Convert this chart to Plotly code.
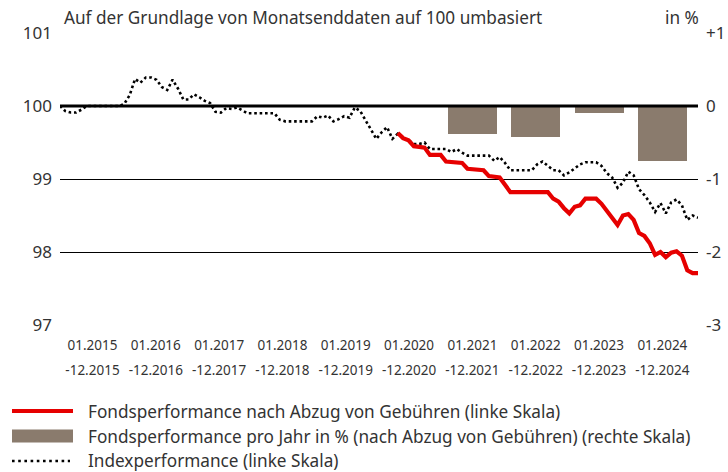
import plotly.graph_objects as go

# ---------------- data ----------------
years = [2015, 2016, 2017, 2018, 2019, 2020, 2021, 2022, 2023, 2024]
tick_top = ["01.%d" % y for y in years]
tick_bottom = ["-12.%d" % y for y in years]

# monthly index performance (Jan 2015 .. Dec 2024), rebased to 100
index_perf = [
    100.00, 99.93, 99.91, 99.91, 99.95, 100.00, 100.00, 100.00, 100.00, 100.00, 100.00, 100.00,
    100.03, 100.15, 100.37, 100.32, 100.39, 100.39, 100.36, 100.26, 100.22, 100.36, 100.24, 100.09,
    100.09, 100.16, 100.12, 100.07, 100.04, 99.92, 99.91, 99.97, 99.96, 99.98, 99.94, 99.90,
    99.90, 99.90, 99.90, 99.90, 99.90, 99.81, 99.79, 99.79, 99.79, 99.79, 99.79, 99.79,
    99.86, 99.84, 99.87, 99.79, 99.82, 99.86, 99.84, 99.98, 99.93, 99.80, 99.68, 99.55,
    99.64, 99.71, 99.55, 99.62, 99.56, 99.53, 99.48, 99.48, 99.50, 99.41, 99.41, 99.41,
    99.41, 99.37, 99.41, 99.36, 99.32, 99.32, 99.32, 99.32, 99.32, 99.25, 99.30, 99.22,
    99.12, 99.12, 99.12, 99.12, 99.12, 99.20, 99.24, 99.18, 99.12, 99.12, 99.05, 99.09,
    99.14, 99.20, 99.23, 99.23, 99.23, 99.18, 99.08, 99.02, 98.88, 98.95, 99.10, 99.05,
    98.86, 98.78, 98.68, 98.55, 98.67, 98.53, 98.68, 98.72, 98.64, 98.44, 98.50, 98.47,
]

# fund performance after fees, starts April 2020 (month index 63)
fund_start = 63
fund_perf = [
    99.63, 99.56, 99.53, 99.45, 99.44, 99.43, 99.33, 99.33, 99.33,
    99.24, 99.23, 99.23, 99.22, 99.14, 99.13, 99.13, 99.12, 99.04, 99.03, 99.02, 98.92,
    98.82, 98.82, 98.82, 98.82, 98.82, 98.82, 98.82, 98.82, 98.73, 98.69, 98.60, 98.53,
    98.62, 98.64, 98.73, 98.73, 98.73, 98.66, 98.56, 98.46, 98.37, 98.50, 98.52, 98.44,
    98.26, 98.22, 98.12, 97.96, 98.00, 97.93, 97.99, 98.01, 97.95, 97.75, 97.71, 97.71,
]

# yearly fund performance in % (right scale)
bar_years = [2021, 2022, 2023, 2024]
bar_values = [-0.38, -0.43, -0.10, -0.76]

left_ticks = [97, 98, 99, 100, 101]
right_ticks = [-3, -2, -1, 0, 1]
right_ticktext = ["-3", "-2", "-1", "0", "+1"]

title_text = "Auf der Grundlage von Monatsenddaten auf 100 umbasiert"
unit_text = "in %"
legend_texts = [
    "Fondsperformance nach Abzug von Gebühren (linke Skala)",
    "Fondsperformance pro Jahr in % (nach Abzug von Gebühren) (rechte Skala)",
    "Indexperformance (linke Skala)",
]

# ---------------- styling ----------------
RED = "rgb(230,0,0)"
BROWN = "#8a7b6d"
TXT = "#333333"
FONT = "Noto Sans"

W, H = 728, 472
# plot area in pixels: x 60..698, y 33..325
PL, PR, PT, PB = 60, 698, 33, 325
L, R, T, B = PL, W - PR, PT, H - PB
pw, ph = PR - PL, PB - PT


def px_x(p):
    return (p - PL) / pw


def px_y(p):
    return (PB - p) / ph


YEAR_MONTHS = 11.81     # visual spacing of year labels on the month axis
FIRST_CENTER = 6.06
months_idx = list(range(len(index_perf)))
months_fund = [fund_start + i for i in range(len(fund_perf))]
tickvals = [FIRST_CENTER + (y - years[0]) * YEAR_MONTHS for y in years]
bar_x = [FIRST_CENTER + (y - years[0]) * YEAR_MONTHS for y in bar_years]

fig = go.Figure()

fig.add_trace(go.Bar(
    x=bar_x, y=bar_values, width=9.14, marker=dict(color=BROWN, line=dict(width=0)),
    xaxis="x2", yaxis="y2", showlegend=False, hoverinfo="skip",
))
fig.add_trace(go.Scatter(
    x=months_idx, y=index_perf, mode="lines",
    line=dict(color="black", width=2.6, dash="2.6px,2.8px"),
    showlegend=False,
))
fig.add_trace(go.Scatter(
    x=months_fund, y=fund_perf, mode="lines",
    line=dict(color=RED, width=4.2),
    showlegend=False,
))

shapes = [
    dict(type="line", xref="paper", yref="y", x0=0, x1=1, y0=100, y1=100,
         line=dict(color="black", width=3), layer="above"),
]
# manual legend rows (pixel centres)
ROWS = [411, 436, 460]
shapes.append(dict(type="line", xref="paper", yref="paper", x0=px_x(12), x1=px_x(73),
                   y0=px_y(ROWS[0]), y1=px_y(ROWS[0]), line=dict(color=RED, width=4)))
shapes.append(dict(type="rect", xref="paper", yref="paper", x0=px_x(12), x1=px_x(73),
                   y0=px_y(ROWS[1] + 6.5), y1=px_y(ROWS[1] - 6.5), fillcolor=BROWN,
                   line=dict(width=0)))
shapes.append(dict(type="line", xref="paper", yref="paper", x0=px_x(12), x1=px_x(70),
                   y0=px_y(ROWS[2] + 1), y1=px_y(ROWS[2] + 1),
                   line=dict(color="black", width=2.6, dash="2.6px,3.6px")))

TXT_SIZE = 17.2
annotations = [
    dict(text=title_text, xref="paper", yref="paper", x=px_x(62), y=px_y(18),
         xanchor="left", yanchor="middle", showarrow=False,
         font=dict(family=FONT, size=TXT_SIZE, color=TXT)),
    dict(text=unit_text, xref="paper", yref="paper", x=px_x(701), y=px_y(18),
         xanchor="right", yanchor="middle", showarrow=False,
         font=dict(family=FONT, size=TXT_SIZE, color=TXT)),
]
for t, ry in zip(legend_texts, ROWS):
    annotations.append(dict(text=t, xref="paper", yref="paper", x=px_x(86), y=px_y(ry),
                            xanchor="left", yanchor="middle", showarrow=False,
                            font=dict(family=FONT, size=TXT_SIZE, color=TXT)))

axis_font = dict(family=FONT, size=17, color=TXT)
x_font = dict(family=FONT, size=13.5, color=TXT)

fig.update_layout(
    width=W, height=H,
    autosize=False,
    margin=dict(l=L, r=R, t=T, b=B, pad=0),
    paper_bgcolor="white", plot_bgcolor="white",
    showlegend=False,
    bargap=0,
    shapes=shapes,
    annotations=annotations,
    xaxis=dict(range=[0, 119], tickvals=tickvals, ticktext=tick_top, showgrid=False,
               zeroline=False, showline=False, ticks="", tickfont=x_font,
               ticklabelstandoff=10, fixedrange=True, automargin=False),
    xaxis2=dict(range=[0, 119], tickvals=tickvals, ticktext=tick_bottom, showgrid=False,
                zeroline=False, showline=False, ticks="", tickfont=x_font,
                overlaying="x", anchor="y2", side="bottom", matches="x",
                ticklabelstandoff=35, fixedrange=True, automargin=False),
    yaxis=dict(range=[97, 101], tickvals=left_ticks, showgrid=True, gridcolor="black",
               gridwidth=1, zeroline=False, showline=False, ticks="", tickfont=axis_font,
               ticklabelstandoff=7, fixedrange=True, automargin=False),
    yaxis2=dict(range=[-3, 1], tickvals=right_ticks, ticktext=right_ticktext,
                overlaying="y", side="right", anchor="x2", showgrid=False, zeroline=False,
                showline=False, ticks="", tickfont=axis_font, ticklabelstandoff=7,
                fixedrange=True, automargin=False),
)

# remove the default page margin so the 728x472 figure fills the window exactly
fig.write_html(
    "out.html",
    config={"responsive": False, "displayModeBar": False},
    post_script="document.body.style.margin='0';document.body.style.overflow='hidden';",
)
